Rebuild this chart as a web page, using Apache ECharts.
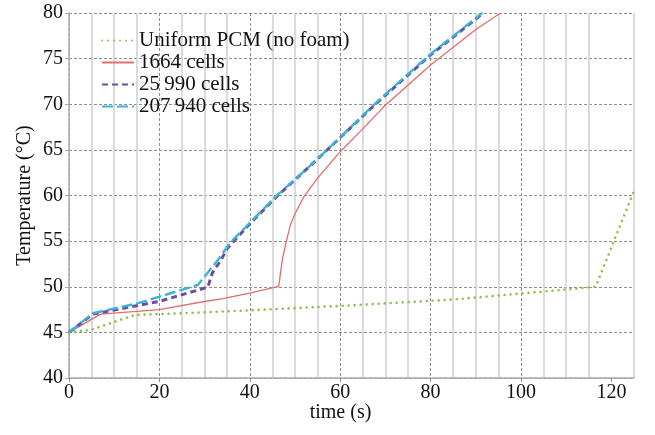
<!DOCTYPE html>
<html>
<head>
<meta charset="utf-8">
<script src="https://cdn.jsdelivr.net/npm/echarts@6/dist/echarts.min.js"></script>
<style>
  html, body { margin: 0; padding: 0; background: #fff; }
  #chart { width: 655px; height: 435px; }
</style>
</head>
<body>
<div id="chart"></div>
<script>
// ── Datos ─────────────────────────────────────────────────────────────────
const seriesNames = ['Uniform PCM (no foam)', '1664 cells', '25\u2009990 cells', '207\u2009940 cells'];

// [tiempo (s), temperatura (°C)]
const uniformPcm = [[0, 45], [5, 45.3], [14.5, 46.9], [35, 47.3], [60, 47.9], [85, 48.6],
  [110, 49.7], [116.5, 50.0], [125, 60.5]];
const cells1664 = [[0, 45], [7, 47.0], [20, 47.5], [29, 48.3], [34, 48.7], [40, 49.3],
  [46.4, 50.05], [47.2, 53], [48, 54.8], [49, 56.8], [50, 58.0], [52, 59.9], [55, 61.9],
  [60, 64.8], [65, 67.3], [70, 69.9], [80, 74.3], [90, 78.2], [95.5, 80]];
const cells25990 = [[0, 45], [5.3, 47.0], [20, 48.4], [30.7, 49.95], [31.7, 51.5],
  [33.6, 52.9], [35, 54.2], [40, 56.9], [46, 59.9], [55, 64.0], [68, 70.1], [80, 75.4],
  [91.7, 80]];
const cells207940 = [[0, 45], [5.3, 47.1], [15.3, 48.2], [28.5, 50.2], [30.3, 51.3],
  [32.9, 52.9], [35.6, 54.8], [46, 60.0], [55, 64.0], [68, 70.2], [80, 75.5], [91.4, 80]];

const xTicks = [0, 20, 40, 60, 80, 100, 120];
const yTicks = [40, 45, 50, 55, 60, 65, 70, 75, 80];

// ── Estilo ───────────────────────────────────────────────────────────────
const FONT = '"Liberation Serif", "Times New Roman", serif';
const AXIS_GRAY = '#ababab';
const GRID_DASH = '#8f8f8f';
const GRID_MINOR = '#cfcfcf';

const chart = echarts.init(document.getElementById('chart'), null, { renderer: 'canvas' });

chart.setOption({
  animation: false,
  textStyle: { fontFamily: FONT, color: '#111' },
  grid: { left: 69, right: 21, top: 13, bottom: 57 },
  legend: {
    orient: 'vertical',
    left: 96,
    top: 25,
    itemWidth: 32,
    itemHeight: 12,
    itemGap: 1,
    itemStyle: { opacity: 0 },
    textStyle: { fontFamily: FONT, fontSize: 21, lineHeight: 21, color: '#111', padding: [0, 0, 0, 0] },
    data: seriesNames,
  },
  xAxis: [
    {
      // líneas menores cada 5 s
      type: 'value', min: 0, max: 125, interval: 5,
      axisLine: { show: true, lineStyle: { color: AXIS_GRAY, width: 1.5 } },
      axisTick: { show: false },
      axisLabel: { show: false },
      splitLine: {
        show: true,
        lineStyle: { color: ['rgba(0,0,0,0)', GRID_MINOR, GRID_MINOR, GRID_MINOR], width: 1.5 },
      },
    },
    {
      type: 'value', min: 0, max: 125, interval: 20, position: 'bottom',
      name: 'time (s)',
      nameLocation: 'middle',
      nameGap: 25,
      nameMoveOverlap: false,
      nameTextStyle: { fontFamily: FONT, fontSize: 20, color: '#111', padding: [0, 22, 0, 0] },
      axisLine: { show: false },
      axisTick: { show: true, length: 4, inside: false, customValues: xTicks,
        lineStyle: { color: GRID_DASH } },
      axisLabel: { customValues: xTicks, fontSize: 20, margin: 5, color: '#111', fontFamily: FONT },
      splitLine: { show: true, showMaxLine: false,
        lineStyle: { type: [3, 2], color: GRID_DASH, width: 1 } },
    },
  ],
  yAxis: {
    type: 'value', min: 40, max: 80, interval: 5,
    name: 'Temperature (°C)',
    nameLocation: 'middle',
    nameGap: 34,
    nameMoveOverlap: false,
    nameTextStyle: { fontFamily: FONT, fontSize: 20, color: '#111' },
    axisLine: { show: true, lineStyle: { color: AXIS_GRAY, width: 1.5 } },
    axisTick: { show: true, length: 4, inside: false, lineStyle: { color: AXIS_GRAY } },
    axisLabel: { customValues: yTicks, fontSize: 20, margin: 6, color: '#111', fontFamily: FONT },
    splitLine: { show: true, lineStyle: { type: [3, 2], color: GRID_DASH, width: 1 } },
  },
  series: [
    {
      name: seriesNames[0], type: 'line', xAxisIndex: 1, data: uniformPcm,
      symbol: 'none', clip: true,
      lineStyle: { color: '#8cc14f', width: 2.6, type: [0.01, 6], cap: 'round' },
      itemStyle: { color: '#8cc14f' },
    },
    {
      name: seriesNames[1], type: 'line', xAxisIndex: 1, data: cells1664,
      symbol: 'none', clip: true,
      lineStyle: { color: '#e26d6d', width: 1.3 },
      itemStyle: { color: '#e26d6d' },
    },
    {
      name: seriesNames[2], type: 'line', xAxisIndex: 1, data: cells25990,
      symbol: 'none', clip: true,
      lineStyle: { color: '#6a4fa0', width: 3, type: [6, 4] },
      itemStyle: { color: '#6a4fa0' },
    },
    {
      name: seriesNames[3], type: 'line', xAxisIndex: 1, data: cells207940,
      symbol: 'none', clip: true,
      lineStyle: { color: '#3fb3d6', width: 2.4, type: [11, 4] },
      itemStyle: { color: '#3fb3d6' },
    },
  ],
});

window.addEventListener('resize', () => chart.resize());
</script>
</body>
</html>
